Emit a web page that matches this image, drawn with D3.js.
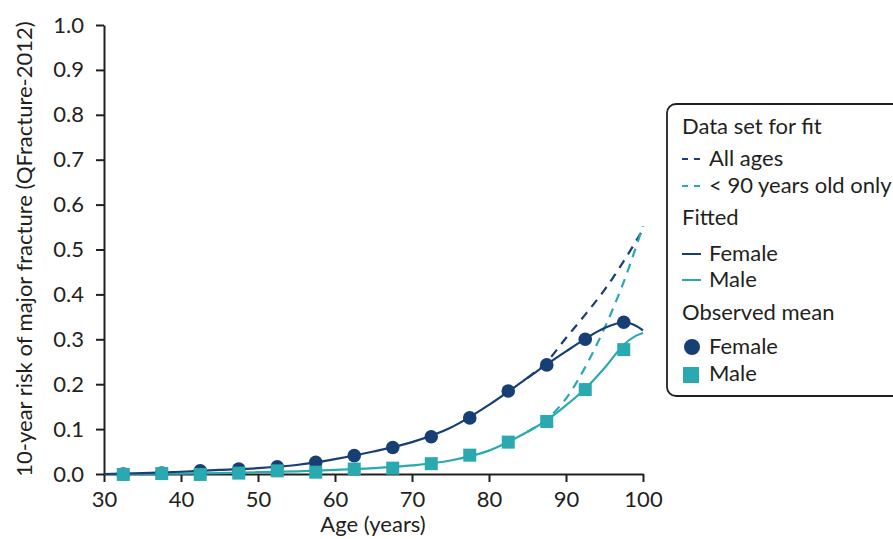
<!DOCTYPE html>
<html><head><meta charset="utf-8">
<script src="https://cdn.jsdelivr.net/npm/d3@7"></script>
<style>
body{margin:0;background:#fff;}
text{font-family:Lato,"Open Sans",sans-serif;fill:#231f20;}
</style></head>
<body><svg id="c" width="893" height="539"></svg>
<script>
// ---- data ----
const obsAges = [32.5,37.5,42.5,47.5,52.5,57.5,62.5,67.5,72.5,77.5,82.5,87.5,92.5,97.5];
const obsFemale = [0.000,0.002,0.007,0.011,0.016,0.026,0.041,0.059,0.083,0.125,0.185,0.243,0.300,0.338];
const obsMale = [-0.001,0.001,-0.001,0.002,0.007,0.004,0.011,0.013,0.023,0.042,0.071,0.117,0.188,0.277];

const fitAges = [30,35,40,45,50,55,60,65,70,75,80,85,87.5,90,92.5,95,97.5,99,100];
const fitFemale = [0.000,0.002,0.005,0.009,0.013,0.020,0.033,0.050,0.071,0.103,0.154,0.214,0.244,0.273,0.301,0.325,0.338,0.331,0.320];
const fitMale = [0.000,0.0005,0.001,0.002,0.004,0.006,0.009,0.013,0.019,0.030,0.052,0.094,0.120,0.153,0.190,0.236,0.288,0.307,0.314];

const dashAges = [85,87.5,90,92.5,95,97.5,100];
const dashAllAges = [0.214,0.250,0.303,0.355,0.410,0.474,0.545];
const dashUnder90 = [0.094,0.122,0.168,0.238,0.325,0.428,0.552];

const xTicks = [30,40,50,60,70,80,90,100];
const yTicks = [0,0.1,0.2,0.3,0.4,0.5,0.6,0.7,0.8,0.9,1.0];

const navy = "#173f74", teal = "#2aa9b0", ink = "#231f20";
const FS = 22;

// ---- chart ----
const svg = d3.select("#c");
const x = d3.scaleLinear().domain([30,100]).range([104,643]);
const y = d3.scaleLinear().domain([0,1]).range([474,25]);

const xAxis = svg.append("g").attr("transform","translate(0,474)")
  .call(d3.axisBottom(x).tickValues(xTicks).tickSize(8).tickSizeOuter(0).tickPadding(9).tickFormat(d3.format("d")));
const yAxis = svg.append("g").attr("transform","translate(104,0)")
  .call(d3.axisLeft(y).tickValues(yTicks).tickSize(8).tickSizeOuter(0).tickPadding(12).tickFormat(d3.format(".1f")));
[xAxis,yAxis].forEach(g=>{
  g.selectAll("path,line").attr("stroke",ink).attr("stroke-width",2);
  g.selectAll("text").attr("font-size",FS).attr("font-family","Lato").attr("fill",ink);
});

svg.append("text").attr("x",373).attr("y",532).attr("text-anchor","middle").attr("font-size",FS).text("Age (years)");
svg.append("text").attr("transform","translate(32,249) rotate(-90)").attr("text-anchor","middle").attr("font-size",FS)
  .text("10-year risk of major fracture (QFracture-2012)");

const line = d3.line().curve(d3.curveCatmullRom.alpha(0.5));
function path(ages, vals, color, dash){
  svg.append("path").attr("d", line(ages.map((a,i)=>[x(a), y(vals[i])])))
    .attr("fill","none").attr("stroke",color).attr("stroke-width",2.2)
    .attr("stroke-dasharray", dash ? "9,7" : null);
}
path(dashAges, dashAllAges, navy, true);
path(dashAges, dashUnder90, teal, true);
path(fitAges, fitMale, teal, false);
path(fitAges, fitFemale, navy, false);

svg.append("g").selectAll("circle").data(obsAges).join("circle")
  .attr("cx",d=>x(d)).attr("cy",(d,i)=>y(obsFemale[i])).attr("r",6.8).attr("fill",navy);
svg.append("g").selectAll("rect").data(obsAges).join("rect")
  .attr("x",d=>x(d)-6.5).attr("y",(d,i)=>y(obsMale[i])-6.5).attr("width",13).attr("height",13).attr("fill",teal);

// ---- legend ----
const lg = svg.append("g");
lg.append("rect").attr("x",667).attr("y",104).attr("width",250).attr("height",292).attr("rx",9)
  .attr("fill","#fff").attr("stroke",ink).attr("stroke-width",1.8);
const head = (t,yy)=>lg.append("text").attr("x",682).attr("y",yy).attr("font-size",FS).text(t);
const item = (t,yy)=>lg.append("text").attr("x",709).attr("y",yy).attr("font-size",FS).text(t);
head("Data set for fit",134);
item("All ages",166); item("< 90 years old only",193);
head("Fitted",225);
item("Female",261); item("Male",287);
head("Observed mean",320);
item("Female",354); item("Male",381);
[[166,navy],[193,teal]].forEach(([yy,c])=>{
  lg.append("line").attr("x1",682).attr("x2",701).attr("y1",yy-7).attr("y2",yy-7)
    .attr("stroke",c).attr("stroke-width",2).attr("stroke-dasharray","6,6");
});
[[261,navy],[287,teal]].forEach(([yy,c])=>{
  lg.append("line").attr("x1",682).attr("x2",701).attr("y1",yy-7).attr("y2",yy-7)
    .attr("stroke",c).attr("stroke-width",2);
});
lg.append("circle").attr("cx",692).attr("cy",347).attr("r",8).attr("fill",navy);
lg.append("rect").attr("x",683).attr("y",367).attr("width",16).attr("height",16).attr("fill",teal);
</script></body></html>
